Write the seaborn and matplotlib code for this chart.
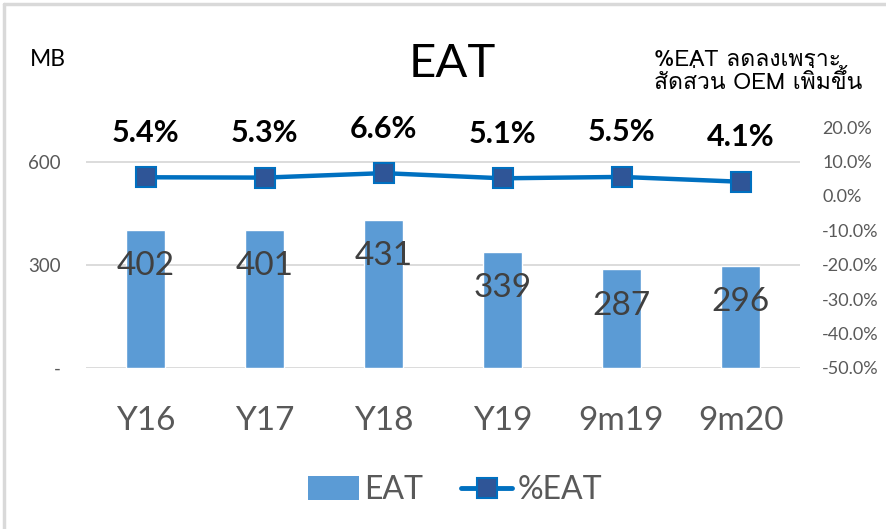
import numpy as np
import pandas as pd
import matplotlib
matplotlib.use("Agg")
import matplotlib.pyplot as plt
import seaborn as sns
from matplotlib import font_manager as fm
from matplotlib.ft2font import FT2Font
from matplotlib.lines import Line2D
from matplotlib.patches import Patch
from matplotlib.ticker import PercentFormatter, FixedLocator, FixedFormatter

categories = ["Y16", "Y17", "Y18", "Y19", "9m19", "9m20"]
eat_values = [402, 401, 431, 339, 287, 296]
eat_pct = [0.054, 0.053, 0.066, 0.051, 0.055, 0.041]
left_ticks = [0, 300, 600]
left_tick_labels = ["-", "300", "600"]
right_ticks = [-0.5, -0.4, -0.3, -0.2, -0.1, 0.0, 0.1, 0.2]
title_text = "EAT"
unit_text = "MB"
note_text = "%EAT ลดลงเพราะ\nสัดส่วน OEM เพิ่มขึ้น"

sns.set_theme(style="white")
BASE = "Lato"


def find_thai():
    for f in fm.fontManager.ttflist:
        try:
            ft = FT2Font(f.fname)
            if ft.get_char_index(ord("ล")) and ft.get_char_index(ord("A")):
                return f.name
        except Exception:
            pass
    return None


thai = find_thai()
fams = [BASE, "DejaVu Sans"]
plt.rcParams["font.family"] = fams
plt.rcParams["axes.unicode_minus"] = False
thai_fams = ([thai] if thai else []) + fams

fig = plt.figure(figsize=(8.87, 5.29), dpi=100)
fig.patch.set_facecolor("white")
ax = fig.add_axes([86 / 887, 1 - 368 / 529, (800 - 86) / 887, (368 - 127) / 529])

df = pd.DataFrame({"cat": categories, "eat": eat_values, "pct": eat_pct})

sns.barplot(data=df, x="cat", y="eat", ax=ax, color="#5B9BD5", saturation=1,
            width=0.32, zorder=2)
ax.set_ylim(0, 702)
ax.yaxis.set_major_locator(FixedLocator(left_ticks))
ax.yaxis.set_major_formatter(FixedFormatter(left_tick_labels))
ax.grid(axis="y", color="#D9D9D9", lw=1.3, zorder=0)
ax.set_axisbelow(True)
ax.set_xlabel("")
ax.set_ylabel("")
ax.tick_params(axis="y", length=0, labelsize=13.5, labelcolor="#595959", pad=18)
ax.tick_params(axis="x", length=0, labelsize=24, labelcolor="#595959", pad=27)
for s in ax.spines.values():
    s.set_visible(False)

for i, v in enumerate(eat_values):
    ax.annotate(f"{v}", xy=(i, v), xytext=(0, -26), textcoords="offset points",
                ha="center", va="center", fontsize=24, color="#404040", zorder=3)

ax2 = ax.twinx()
sns.pointplot(data=df, x="cat", y="pct", ax=ax2, color="#0070C0", markers="s",
              errorbar=None, linewidth=3.2, markersize=15,
              markerfacecolor="#2F5597", markeredgecolor="#0070C0",
              markeredgewidth=1.5)
ax2.set_ylim(-0.5, 0.2)
ax2.yaxis.set_major_locator(FixedLocator(right_ticks))
ax2.yaxis.set_major_formatter(PercentFormatter(xmax=1, decimals=1))
ax2.tick_params(axis="y", length=0, labelsize=13, labelcolor="#595959", pad=16)
ax2.set_ylabel("")
ax2.set_xlabel("")
for s in ax2.spines.values():
    s.set_visible(False)
for i, p in enumerate(eat_pct):
    ax2.annotate(f"{p*100:.1f}%", xy=(i, p), xytext=(0, 32), textcoords="offset points",
                 ha="center", va="center", fontsize=22, fontweight="bold", color="black")

ax.set_xlim(-0.5, len(categories) - 0.5)
ax2.set_xlim(-0.5, len(categories) - 0.5)

fig.text(452 / 887, 1 - 64 / 529, title_text, ha="center", va="center",
         fontsize=34, color="black")
fig.text(30 / 887, 1 - 60 / 529, unit_text, ha="left", va="center",
         fontsize=16.5, color="black")
fig.text(654 / 887, 1 - 72 / 529, note_text, ha="left", va="center",
         fontsize=16.5, color="black", family=thai_fams, linespacing=0.95)

handles = [Patch(facecolor="#5B9BD5", edgecolor="none", label="EAT"),
           Line2D([], [], color="#0070C0", lw=3.5, marker="s", markersize=15,
                  markerfacecolor="#2F5597", markeredgecolor="#0070C0",
                  markeredgewidth=1.5, label="%EAT")]
fig.legend(handles=handles, loc="center", bbox_to_anchor=(455 / 887, 1 - 490 / 529),
           ncol=2, frameon=False, fontsize=23, labelcolor="#595959",
           handlelength=1.6, handleheight=0.75, handletextpad=0.15, columnspacing=1.2)

fig.add_artist(Line2D([4 / 887, 4 / 887], [0, 1 - 4 / 529], transform=fig.transFigure,
                      color="#D9D9D9", lw=2.5))
fig.add_artist(Line2D([4 / 887, 1], [1 - 4 / 529, 1 - 4 / 529], transform=fig.transFigure,
                      color="#D9D9D9", lw=2.5))

fig.savefig("out.png", dpi=100, facecolor="white")
